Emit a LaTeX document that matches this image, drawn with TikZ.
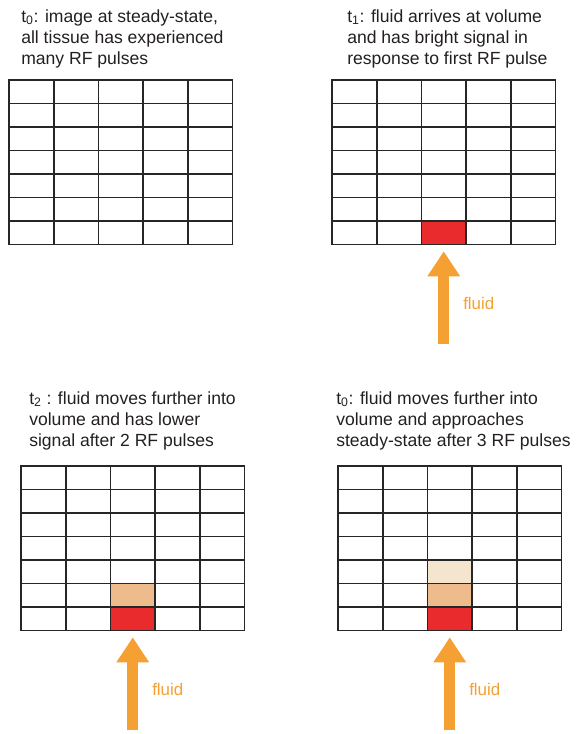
\documentclass[tikz,border=0pt]{standalone}
\usepackage{fontspec}
\setmainfont{Liberation Sans}
\usetikzlibrary{calc,arrows.meta}
\definecolor{mrorange}{RGB}{244,160,50}
\definecolor{mrred}{RGB}{234,43,46}
\definecolor{mrpeach}{RGB}{238,187,140}
\definecolor{mrcream}{RGB}{243,229,206}
\definecolor{mrtext}{HTML}{231F20}

\begin{document}
\begin{tikzpicture}[x=0.25mm,y=-0.25mm,
        cell/.style={rectangle,draw=black!85,line width=1.15pt,
                     minimum width=11.175mm,minimum height=5.875mm,
                     inner sep=0pt},
        capbox/.style={anchor=north west,inner sep=0pt,align=left,
                    text=mrtext,font=\fontsize{12.5}{15.1}\selectfont},
        flow/.style={-{Triangle[width=7.75mm,length=6.25mm]},
                     line width=2.75mm,mrorange,shorten >=1.5mm},
        flowlbl/.style={anchor=west,inner sep=0pt,text=mrorange,
                        font=\fontsize{12}{14}\selectfont}]
    \useasboundingbox (0,0) rectangle (579,734);

    % captions
    \node[capbox] (capa) at (21,9)
      {t\textsubscript{0}: image at steady-state,\\
       all tissue has experienced\\
       many RF pulses};
    \node[capbox] (capb) at (347,9)
      {t\textsubscript{1}: fluid arrives at volume\\
       and has bright signal in\\
       response to first RF pulse};
    \node[capbox] (capc) at (29,391)
      {t\textsubscript{2} : fluid moves further into\\
       volume and has lower\\
       signal after 2 RF pulses};
    \node[capbox] (capd) at (336,391)
      {t\textsubscript{0}: fluid moves further into\\
       volume and approaches\\
       steady-state after 3 RF pulses};

    % the four 5x7 grids
    \foreach \p/\gx/\gy in {a/9/80,b/332/80,c/21/466,d/338/466}
      \foreach \c in {1,...,5}
        \foreach \r in {1,...,7}
          \node[cell] (\p-\c-\r) at (\gx+44.7*\c-22.35,\gy+23.5*\r-11.75) {};

    % signal of the fluid
    \node[cell,fill=mrred]   (b-hot) at (b-3-7) {};
    \node[cell,fill=mrpeach] (c-mid) at (c-3-6) {};
    \node[cell,fill=mrred]   (c-hot) at (c-3-7) {};
    \node[cell,fill=mrcream] (d-low) at (d-3-5) {};
    \node[cell,fill=mrpeach] (d-mid) at (d-3-6) {};
    \node[cell,fill=mrred]   (d-hot) at (d-3-7) {};

    % inflow arrows
    \foreach \p in {b,c,d} {
      \coordinate (\p-tail) at ($(\p-3-7.south)+(0,99)$);
      \draw[flow] (\p-tail) -- (\p-3-7.south)
        node[flowlbl,pos=0.41,xshift=3.5mm] (\p-fluid) {fluid};
    }
\end{tikzpicture}
\end{document}
